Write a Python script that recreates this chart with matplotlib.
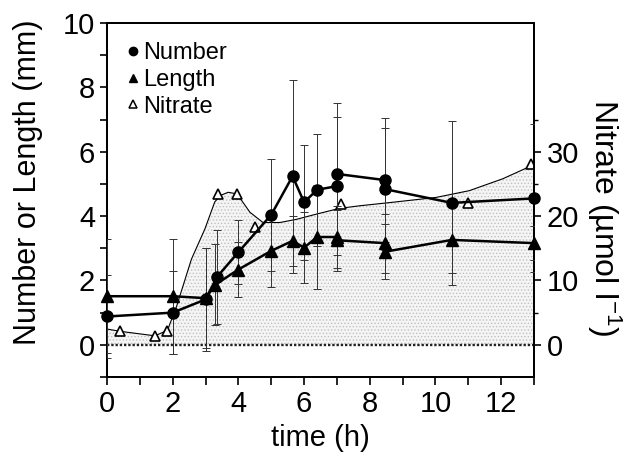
import matplotlib
matplotlib.use('Agg')
import matplotlib.pyplot as plt
from matplotlib.lines import Line2D
from matplotlib.ticker import MultipleLocator

plt.rcParams['font.family'] = ['Liberation Sans', 'DejaVu Sans']
plt.rcParams['mathtext.fontset'] = 'custom'
plt.rcParams['mathtext.rm'] = 'Liberation Sans'
plt.rcParams['mathtext.it'] = 'Liberation Sans:italic'
plt.rcParams['hatch.linewidth'] = 0.6
plt.rcParams['hatch.color'] = '#b0b0b0'

# ---- data ----
num_t = [0, 2, 3, 3.35, 4, 5, 5.65, 6.0, 6.4, 7.0, 7.0, 8.45, 8.45, 10.5, 13]
num_v = [0.88, 1.0, 1.41, 2.11, 2.88, 4.04, 5.24, 4.43, 4.82, 4.93, 5.31, 5.12, 4.84, 4.41, 4.55]
num_sd = [1.28, 1.29, 1.6, 1.45, 1.0, 1.74, 3.0, 1.79, 1.74, 2.15, 2.21, 1.93, 1.9, 2.56, 2.3]

len_t = [0, 2, 3, 3.3, 4, 5, 5.65, 6.0, 6.4, 7.0, 7.0, 8.45, 8.45, 10.5, 13]
len_v = [1.51, 1.51, 1.45, 1.87, 2.34, 2.92, 3.23, 3.02, 3.35, 3.35, 3.25, 3.16, 2.89, 3.26, 3.16]
len_sd = [1.77, 1.79, 1.55, 1.25, 0.86, 1.12, 0.78, 1.1, 1.63, 0.97, 0.95, 0.92, 0.86, 1.02, 0.52]

nit_t = [0.4, 1.46, 1.84, 3.38, 3.97, 4.5, 7.11, 10.98, 12.9]
nit_v = [2.2, 1.4, 2.2, 23.5, 23.4, 18.3, 21.9, 22.0, 28.1]

# smoothed nitrate curve
curve_t = [0, 0.4, 1.0, 1.46, 1.84, 2.12, 2.57, 2.98, 3.28, 3.45, 3.69, 3.9, 4.09,
           4.35, 4.75, 5.26, 5.77, 6.37, 7.08, 7.69, 8.7, 10.02, 11.03, 12.05, 13]
curve_v = [2.45, 2.1, 1.7, 1.4, 2.25, 6.0, 13.3, 18.0, 22.2, 23.2, 23.7, 23.5, 22.5,
           20.6, 19.0, 19.0, 19.5, 20.3, 21.2, 21.6, 22.15, 22.9, 23.95, 25.8, 28.0]

xticks = [0, 2, 4, 6, 8, 10, 12]
yticks_left = [0, 2, 4, 6, 8, 10]
yticks_right = [0, 10, 20, 30]

fig = plt.figure(figsize=(6.3, 4.61), dpi=100)
ax = fig.add_axes([107/630, 1-377/461, (534-107)/630, (377-23)/461])
ax2 = ax.twinx()
ax.set_zorder(ax2.get_zorder() + 1)
ax.patch.set_visible(False)

# nitrate (right axis)
ax2.fill_between(curve_t, 0, curve_v, facecolor='#f5f5f5', hatch='.....',
                 edgecolor='#c0c0c0', linewidth=0, zorder=1)
ax2.plot(curve_t, curve_v, color='k', lw=0.8, zorder=2)
ax2.plot(nit_t, nit_v, ls='none', marker='^', ms=6.5, mfc='white', mec='k', mew=1.2, zorder=3)
ax2.set_ylim(-5, 50)
ax2.set_xlim(0, 13)
ax2.set_yticks(yticks_right)
ax2.set_yticks([5, 15, 25, 35], minor=True)
ax2.tick_params(axis='y', direction='out', length=5, width=1.2, labelsize=21, pad=4)
ax2.tick_params(axis='y', which='minor', direction='out', length=3, width=1.0)
ax2.set_ylabel('Nitrate (µmol l$^{-1}$)', fontsize=23, rotation=270)
ax2.yaxis.set_label_coords(1.21, 0.45)

# zero line
ax.axhline(0, color='#222222', lw=1.7, ls=(0, (1, 0.8)), zorder=2)

# error bars
ax.errorbar(num_t, num_v, yerr=num_sd, fmt='none', ecolor='#333333', elinewidth=0.7,
            capsize=3, capthick=0.7, zorder=3)
ax.errorbar(len_t, len_v, yerr=len_sd, fmt='none', ecolor='#333333', elinewidth=0.7,
            capsize=3, capthick=0.7, zorder=3)

ax.plot(num_t, num_v, color='k', lw=1.8, marker='o', ms=8, zorder=4, clip_on=False)
ax.plot(len_t, len_v, color='k', lw=1.8, marker='^', ms=8, zorder=4, clip_on=False)

ax.set_xlim(0, 13)
ax.set_ylim(-1, 10)
ax.set_xticks(xticks)
ax.set_yticks(yticks_left)
ax.xaxis.set_minor_locator(MultipleLocator(1))
ax.yaxis.set_minor_locator(MultipleLocator(1))
ax.tick_params(axis='both', which='both', direction='out', length=5, width=1.2,
               labelsize=21)
ax.tick_params(axis='x', which='both', length=6)
ax.set_xlabel('time (h)', fontsize=21, labelpad=4)
ax.set_ylabel('Number or Length (mm)', fontsize=22)
ax.yaxis.set_label_coords(-0.15, 0.55)

for a in (ax, ax2):
    for s in a.spines.values():
        s.set_linewidth(1.4)

handles = [Line2D([], [], ls='none', marker='o', ms=6, mfc='k', mec='k'),
           Line2D([], [], ls='none', marker='^', ms=6, mfc='k', mec='k'),
           Line2D([], [], ls='none', marker='^', ms=5.5, mfc='white', mec='k', mew=1.1)]
ax.legend(handles, ['Number', 'Length', 'Nitrate'], loc='upper left',
          bbox_to_anchor=(0.046, 0.946), frameon=False, fontsize=17,
          handlelength=0.5, handletextpad=0.2, labelspacing=0.2,
          borderaxespad=0, borderpad=0)

fig.savefig('out.png', dpi=100)
